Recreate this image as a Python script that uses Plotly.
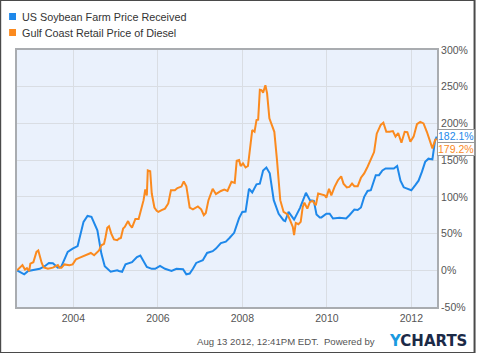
import plotly.graph_objects as go
import pandas as pd

# ---------------- data (decimal years, % change) ----------------
soy_years = [2002.667, 2002.837, 2002.931, 2003.205, 2003.322, 2003.422, 2003.516, 2003.633,
             2003.712, 2003.867, 2003.984, 2004.101, 2004.241, 2004.335, 2004.428, 2004.568,
             2004.662, 2004.742, 2004.882, 2005.036, 2005.076, 2005.153, 2005.233, 2005.387,
             2005.504, 2005.584, 2005.738, 2005.855, 2005.935, 2006.051, 2006.168, 2006.323,
             2006.440, 2006.596, 2006.674, 2006.753, 2006.830, 2006.908, 2007.064, 2007.165,
             2007.298, 2007.375, 2007.492, 2007.609, 2007.696, 2007.806, 2007.923, 2008.000,
             2008.077, 2008.157, 2008.234, 2008.335, 2008.414, 2008.491, 2008.568, 2008.648,
             2008.742, 2008.858, 2008.975, 2009.013, 2009.092, 2009.170, 2009.223, 2009.364,
             2009.504, 2009.598, 2009.691, 2009.754, 2009.832, 2009.871, 2009.988, 2010.066,
             2010.145, 2010.300, 2010.456, 2010.533, 2010.650, 2010.730, 2010.807, 2010.884,
             2010.964, 2011.041, 2011.158, 2011.235, 2011.315, 2011.392, 2011.586, 2011.665,
             2011.743, 2011.820, 2011.899, 2012.000, 2012.094, 2012.171, 2012.250, 2012.327,
             2012.405, 2012.498, 2012.561, 2012.601]
soy_values = [0, -5.5, -1, 2, 5.5, 10, 9.5, 3.6,
              4.5, 25, 29.5, 33, 66, 74, 72.7, 54.5,
              22.7, 5.5, -2, 0, -1, -2, 8, 11,
              18, 20, 4.5, 2, 2, 6, 2, -1,
              2, 1.4, -5.5, -4.5, 2, 10, 13.6, 23.6,
              26, 29.5, 37, 39, 44, 51, 71, 79.5,
              80, 111, 106, 117, 118, 136, 140, 132,
              95.5, 77, 68, 67, 79.5, 73, 69, 85,
              105.5, 95.5, 94.5, 76, 72, 72, 77, 77,
              70.5, 71.5, 70.5, 75, 82.7, 82, 85.5, 100,
              108, 109, 129.5, 129.5, 136, 138.6, 138.6, 142,
              122, 113, 111.5, 109, 116, 122, 134, 147.7,
              152, 151, 177, 182.1]

diesel_years = [2002.667, 2002.737, 2002.795, 2002.854, 2002.901, 2002.954, 2002.982, 2003.053,
                2003.127, 2003.170, 2003.205, 2003.251, 2003.298, 2003.399, 2003.516, 2003.595,
                2003.633, 2003.673, 2003.719, 2003.789, 2003.906, 2003.984, 2004.063, 2004.140,
                2004.218, 2004.297, 2004.414, 2004.491, 2004.608, 2004.662, 2004.725, 2004.760,
                2004.802, 2004.842, 2004.896, 2004.959, 2005.036, 2005.076, 2005.123, 2005.177,
                2005.216, 2005.294, 2005.333, 2005.387, 2005.427, 2005.467, 2005.544, 2005.584,
                2005.637, 2005.661, 2005.701, 2005.738, 2005.761, 2005.818, 2005.855, 2005.918,
                2005.972, 2006.012, 2006.089, 2006.168, 2006.246, 2006.309, 2006.402, 2006.463,
                2006.557, 2006.613, 2006.674, 2006.753, 2006.830, 2006.947, 2007.025, 2007.088,
                2007.135, 2007.198, 2007.298, 2007.375, 2007.492, 2007.572, 2007.649, 2007.743,
                2007.820, 2007.867, 2007.923, 2007.960, 2008.016, 2008.077, 2008.133, 2008.194,
                2008.234, 2008.288, 2008.335, 2008.374, 2008.414, 2008.451, 2008.491, 2008.545,
                2008.585, 2008.639, 2008.702, 2008.756, 2008.819, 2008.896, 2008.975, 2009.013,
                2009.069, 2009.130, 2009.193, 2009.223, 2009.263, 2009.326, 2009.380, 2009.427,
                2009.467, 2009.537, 2009.598, 2009.661, 2009.738, 2009.794, 2009.871, 2009.949,
                2009.988, 2010.051, 2010.105, 2010.182, 2010.262, 2010.339, 2010.393, 2010.473,
                2010.533, 2010.596, 2010.650, 2010.730, 2010.807, 2010.884, 2010.964, 2011.041,
                2011.118, 2011.181, 2011.275, 2011.338, 2011.408, 2011.485, 2011.563, 2011.626,
                2011.689, 2011.766, 2011.843, 2011.906, 2011.977, 2012.054, 2012.133, 2012.211,
                2012.288, 2012.367, 2012.428, 2012.498, 2012.561, 2012.601]
diesel_values = [0, 4, 7, 1, 3, -1, 9, 11,
                 25, 27, 18, 10, 4, 2, 3.6, 6,
                 7, 3.6, 3.6, 8, 7, 8, 15, 17,
                 19, 20.5, 23.6, 20.5, 27, 34, 36, 45,
                 58, 60, 50, 42, 41, 43, 44, 57,
                 59, 67, 62, 58, 65, 70, 70, 79.5,
                 88, 95.5, 110, 102, 136, 135, 104.5, 85.5,
                 81, 79.5, 82, 84, 91, 109, 109, 112,
                 114, 121, 114.5, 85.5, 83, 87, 83, 75,
                 78, 95.5, 111, 103.6, 108, 110, 108, 120.5,
                 119, 149, 150, 142, 145.5, 140, 142, 177,
                 191, 188.6, 204.5, 205, 246, 245.5, 242, 252,
                 241, 207, 195.5, 188.6, 150, 95.5, 79.5, 78,
                 76, 68, 59, 48, 64.5, 62.7, 66, 86,
                 92, 84, 93, 94.5, 88.6, 104.5, 103.6, 102,
                 99, 111, 102, 113.6, 122.7, 128, 118, 113,
                 113.6, 118, 114.5, 114.5, 126, 132, 141, 150,
                 161, 186, 198, 201, 188.6, 188.6, 189.5, 182,
                 187, 173.6, 188.6, 188, 175, 182, 199, 202,
                 200, 188.6, 177, 166, 177, 179.2]

series_names = ["US Soybean Farm Price Received", "Gulf Coast Retail Price of Diesel"]
y_ticks = [-50, 0, 50, 100, 150, 200, 250, 300]
x_tick_years = [2004, 2006, 2008, 2010, 2012]
footer_text = "Aug 13 2012, 12:41PM EDT.  Powered by"

BLUE = "#1e88ea"
ORANGE = "#fb8a1e"


def to_dates(years):
    out = []
    for y in years:
        yr = int(y)
        start = pd.Timestamp(year=yr, month=1, day=1)
        end = pd.Timestamp(year=yr + 1, month=1, day=1)
        out.append(start + (end - start) * (y - yr))
    return out


soy_dates = to_dates(soy_years)
diesel_dates = to_dates(diesel_years)

fig = go.Figure()
fig.add_trace(go.Scatter(x=soy_dates, y=soy_values, mode="lines", name=series_names[0],
                         line=dict(color=BLUE, width=2), showlegend=False))
fig.add_trace(go.Scatter(x=diesel_dates, y=diesel_values, mode="lines", name=series_names[1],
                         line=dict(color=ORANGE, width=2), showlegend=False))

font_family = "Liberation Sans, Arial, sans-serif"

fig.update_layout(
    width=480, height=353,
    margin=dict(l=17, r=38, t=50, b=46),
    paper_bgcolor="white",
    plot_bgcolor="#eaf1fc",
    font=dict(family=font_family, size=11, color="#555555"),
    xaxis=dict(
        range=[pd.Timestamp("2002-09-01"), pd.Timestamp("2012-08-10")],
        tickvals=[pd.Timestamp(year=y, month=1, day=1) for y in x_tick_years],
        ticktext=[str(y) for y in x_tick_years],
        showgrid=True, gridcolor="#d9dde3", gridwidth=1,
        showline=True, linecolor="#a9acb0", linewidth=2, mirror=True,
        ticks="", tickfont=dict(size=10.5, color="#555555"),
        zeroline=False,
    ),
    yaxis=dict(
        range=[-50, 300], side="right",
        tickvals=y_ticks, ticktext=[f"{v}%" for v in y_ticks],
        showgrid=True, gridcolor="#d9dde3", gridwidth=1,
        showline=True, linecolor="#a9acb0", linewidth=2, mirror=True,
        ticks="", tickfont=dict(size=10.5, color="#555555"),
        zeroline=False,
    ),
    showlegend=False,
)

# legend (custom: squares + text)
fig.add_shape(type="rect", xref="paper", yref="paper", x0=-0.0188, x1=-0.0024, y0=1.1167, y1=1.1440,
              fillcolor=BLUE, line=dict(width=0))
fig.add_shape(type="rect", xref="paper", yref="paper", x0=-0.0188, x1=-0.0024, y0=1.0545, y1=1.0818,
              fillcolor=ORANGE, line=dict(width=0))
fig.add_annotation(xref="paper", yref="paper", x=0.006, y=1.1284, xanchor="left", yanchor="middle",
                   text=series_names[0], showarrow=False, font=dict(size=10.8, color="#333333"))
fig.add_annotation(xref="paper", yref="paper", x=0.006, y=1.0661, xanchor="left", yanchor="middle",
                   text=series_names[1], showarrow=False, font=dict(size=10.8, color="#333333"))

# last-value labels
fig.add_annotation(xref="paper", yref="y", x=1.0, y=soy_values[-1], xanchor="left", yanchor="middle",
                   text=f"{soy_values[-1]:.1f}%", showarrow=False,
                   font=dict(size=10.5, color=BLUE), bgcolor="white", bordercolor="#999999",
                   borderwidth=1, borderpad=0, yshift=1)
fig.add_annotation(xref="paper", yref="y", x=1.0, y=diesel_values[-1], xanchor="left", yanchor="middle",
                   text=f"{diesel_values[-1]:.1f}%", showarrow=False,
                   font=dict(size=10.5, color=ORANGE), bgcolor="white", bordercolor="#999999",
                   borderwidth=1, borderpad=0, yshift=-10)

# footer
fig.add_annotation(xref="paper", yref="paper", x=0.856, y=-0.136, xanchor="right", yanchor="middle",
                   text=footer_text, showarrow=False, font=dict(size=9.6, color="#555555"))
fig.add_annotation(xref="paper", yref="paper", x=1.075, y=-0.134, xanchor="right", yanchor="middle",
                   text='<b><span style="color:#1a9ae0">Y</span>CHARTS</b>', showarrow=False,
                   font=dict(size=15, color="#1b2a47", family="DejaVu Sans, Arial, sans-serif"))

# outer frame
fig.add_shape(type="rect", xref="paper", yref="paper",
              x0=-17 / 425, x1=(480 - 17) / 425, y0=-46 / 257, y1=(353 - 46) / 257,
              line=dict(color="#4a4a4a", width=2), fillcolor="rgba(0,0,0,0)", layer="above")

fig.write_html("out.html")
